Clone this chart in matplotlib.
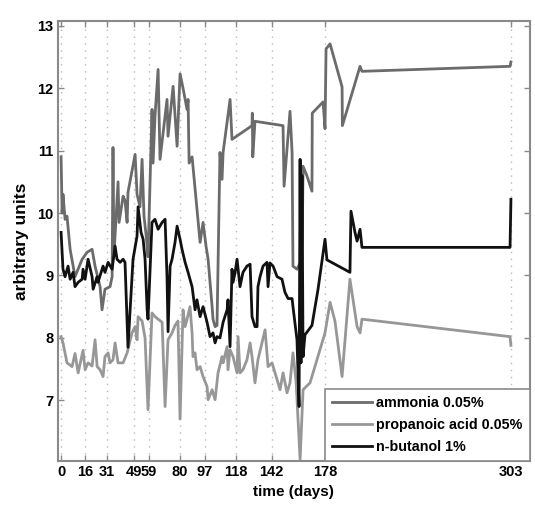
import matplotlib.pyplot as plt

# sampling days and readings
amm_days = [0, 0.7, 1.3, 2.7, 4.0, 6.1, 9.4, 14.2, 17.5, 20.9, 22.9, 26.3, 27.6, 29.6,
            33.0, 34.4, 35.0, 35.6, 38.4, 39.1, 41.8, 43.1, 44.5, 45.1, 49.9, 51.2,
            53.2, 54.6, 55.9, 57.5, 58.6, 61.3, 62.0, 63.3, 65.4, 66.7, 71.4, 72.1,
            75.5, 78.2, 80.2, 82.2, 84.9, 85.6, 86.3, 88.3, 93.7, 95.7, 97.7, 99.1,
            100.4, 101.8, 102.4, 103.8, 105.1, 107.1, 108.5, 109.2, 113.9, 115.2,
            128.7, 128.9, 129.2, 130.7, 149.6, 150.3, 154.3, 155.7, 156.3, 159.0,
            162.4, 163.1, 165.8, 169.1, 169.3, 176.6, 177.9, 178.6, 181.3, 189.4,
            189.6, 201.5, 202.8, 302.6, 303.2]
amm_vals = [10.9, 10.0, 10.3, 9.9, 9.95, 9.42, 8.98, 9.26, 9.37, 9.42, 9.15, 8.82, 8.45, 8.78,
            8.82, 8.98, 11.05, 9.3, 10.5, 9.85, 10.27, 10.2, 9.85, 10.33, 10.94, 10.3,
            10.1, 10.86, 9.95, 9.6, 9.3, 11.66, 10.8, 11.55, 12.3, 10.86, 11.82, 11.23,
            12.03, 11.07, 12.23, 12.0, 11.66, 11.82, 10.8, 10.9, 9.53, 9.85, 9.47, 9.26,
            8.89, 8.5, 8.3, 8.18, 8.2, 10.97, 10.54, 10.97, 11.82, 11.18,
            11.4, 11.6, 10.9, 11.47, 11.4, 10.43, 11.63, 10.97, 9.15, 9.1,
            9.26, 10.75, 10.59, 10.35, 11.6, 11.78, 11.35, 12.63, 12.71, 12.02,
            11.4, 12.35, 12.27, 12.35, 12.42]

prop_days = [0, 1.3, 4.0, 7.4, 9.4, 11.5, 14.8, 16.2, 18.2, 20.9, 22.9, 24.3, 26.3, 28.3,
             29.6, 31.7, 33.0, 35.0, 36.4, 38.4, 41.8, 44.5, 47.8, 49.9, 51.2, 51.9,
             54.6, 56.6, 58.6, 61.3, 63.3, 65.4, 68.1, 70.1, 72.1, 74.8, 76.8, 78.8,
             80.2, 82.2, 83.6, 84.9, 86.9, 88.3, 88.9, 90.3, 91.6, 93.7, 95.7, 98.4,
             99.1, 101.8, 103.8, 105.8, 108.5, 109.2, 111.9, 112.5, 113.9, 115.9,
             118.6, 119.3, 120.6, 122.6, 125.3, 127.4, 128.7, 130.7, 132.7, 135.4,
             137.5, 139.5, 142.2, 144.2, 147.6, 149.6, 152.3, 154.3, 156.3, 158.4,
             161.1, 163.1, 167.8, 177.9, 181.3, 184.6, 189.4, 194.7, 199.5, 201.5,
             202.8, 302.6, 303.2]
prop_vals = [8.02, 7.92, 7.6, 7.54, 7.75, 7.44, 7.8, 7.49, 7.6, 7.55, 7.97, 7.54, 7.49, 7.38,
             7.7, 7.76, 7.6, 7.65, 7.92, 7.6, 7.6, 7.76, 8.08, 8.18, 7.97, 8.34,
             8.27, 8.0, 6.85, 8.4, 8.34, 8.3, 8.25, 6.9, 7.97, 8.08, 8.2, 8.27,
             6.7, 8.45, 8.18, 8.3, 8.5, 8.08, 7.7, 7.76, 7.49, 7.54, 7.38, 7.22,
             7.01, 7.17, 7.01, 7.44, 7.7, 7.6, 7.86, 7.49, 7.81, 7.7,
             7.44, 8.02, 7.44, 7.49, 7.65, 7.92, 7.7, 7.28, 7.65, 7.92,
             8.13, 7.54, 7.6, 7.44, 7.17, 7.44, 7.12, 7.28, 7.76, 7.3,
             6.05, 7.17, 7.28, 8.08, 8.57, 8.27, 7.38, 8.94, 8.18, 8.08,
             8.3, 8.02, 7.88]

but_days = [0, 0.7, 1.3, 2.7, 4.7, 6.1, 8.1, 9.4, 11.5, 14.2, 14.8, 16.2, 18.2, 20.9,
            21.6, 24.3, 24.9, 28.3, 29.6, 31.7, 34.4, 36.4, 37.7, 39.8, 41.8, 43.1,
            45.1, 48.5, 51.2, 51.9, 53.9, 55.3, 56.6, 58.0, 58.6, 61.3, 63.3, 65.4,
            68.1, 70.1, 71.4, 72.1, 73.5, 74.8, 76.8, 78.2, 80.2, 81.5, 83.6, 85.6,
            88.3, 90.3, 91.6, 93.7, 95.7, 98.4, 100.4, 102.4, 103.8, 105.1, 107.1,
            109.2, 111.9, 112.5, 113.9, 115.2, 115.9, 117.3, 118.6, 120.6, 122.6,
            125.3, 127.4, 128.7, 130.7, 132.1, 132.7, 134.1, 136.1, 138.8, 139.5,
            140.8, 142.9, 145.6, 148.9, 150.9, 153.0, 155.7, 156.3, 159.0, 160.4,
            161.1, 161.7, 162.4, 163.1, 164.4, 169.1, 173.2, 177.9, 179.2, 194.7,
            195.4, 198.1, 199.5, 201.5, 202.8, 302.6, 303.2]
but_vals = [9.69, 9.37, 9.1, 8.98, 9.15, 8.94, 9.05, 8.82, 8.89, 8.94, 9.1, 8.94, 9.26, 8.98,
            8.78, 8.98, 8.89, 9.15, 9.05, 9.21, 9.1, 9.47, 9.26, 9.21, 9.26, 9.21,
            7.85, 9.26, 9.63, 10.1, 9.69, 9.58, 9.26, 8.45, 8.3, 9.85, 9.9, 9.74,
            9.85, 9.9, 8.98, 8.1, 9.15, 9.26, 9.53, 9.79, 9.58, 9.42, 9.21, 9.05,
            8.82, 8.45, 8.61, 8.34, 8.5, 8.25, 8.02, 8.08, 7.92, 8.02, 8.0,
            8.25, 8.45, 8.61, 7.86, 9.1, 8.89, 9.05, 9.26, 8.82, 9.05,
            9.15, 9.18, 8.34, 8.18, 8.18, 8.82, 8.98, 9.15, 9.21, 8.82,
            9.2, 9.15, 8.98, 8.94, 8.73, 8.63, 8.63, 8.5, 7.97, 6.9,
            10.86, 7.6, 10.6, 7.7, 8.05, 8.2, 8.78, 9.58, 9.25, 9.05,
            10.03, 9.69, 9.55, 9.74, 9.45, 9.45, 10.22]

tick_days = [0, 16, 31, 49, 59, 80, 97, 118, 142, 178, 303]

plt.rcParams['font.family'] = ['Liberation Sans', 'DejaVu Sans']
plt.rcParams['font.weight'] = 'bold'

fig = plt.figure(figsize=(5.35, 5.19), dpi=100)
ax = fig.add_axes([0.1075, 0.112, 0.883, 0.848])

for d in tick_days:
    ax.axvline(d, color='#b8b8b8', lw=1.0, ls=(0, (1, 4)), zorder=0)

ax.plot(amm_days, amm_vals, color='#6b6b6b', lw=2.0, label='ammonia 0.05%')
ax.plot(prop_days, prop_vals, color='#979797', lw=2.0, label='propanoic acid 0.05%')
ax.plot(but_days, but_vals, color='#111111', lw=2.0, label='n-butanol 1%')

ax.set_xlim(-2.4, 316)
ax.set_ylim(6.03, 13.08)
ax.set_xticks(tick_days)
ax.set_yticks([7, 8, 9, 10, 11, 12, 13])
ax.tick_params(direction='in', top=True, right=True, length=4, width=1,
               color='#8a8a8a', labelsize=10.5, pad=3)
for s in ax.spines.values():
    s.set_color('#8a8a8a')
    s.set_linewidth(1.5)

ax.set_xlabel('time (days)', fontsize=11, fontweight='bold', labelpad=4)
ax.set_ylabel('arbitrary units', fontsize=12.5, fontweight='bold', labelpad=6)

leg = ax.legend(loc='lower right', fontsize=10.3, handlelength=2.8, handletextpad=0.3,
                borderpad=0.5, labelspacing=0.55, borderaxespad=0, fancybox=False,
                framealpha=1)
leg.get_frame().set_edgecolor('#8a8a8a')
leg.get_frame().set_linewidth(1.2)

plt.savefig('out.png', dpi=100)
plt.close()
